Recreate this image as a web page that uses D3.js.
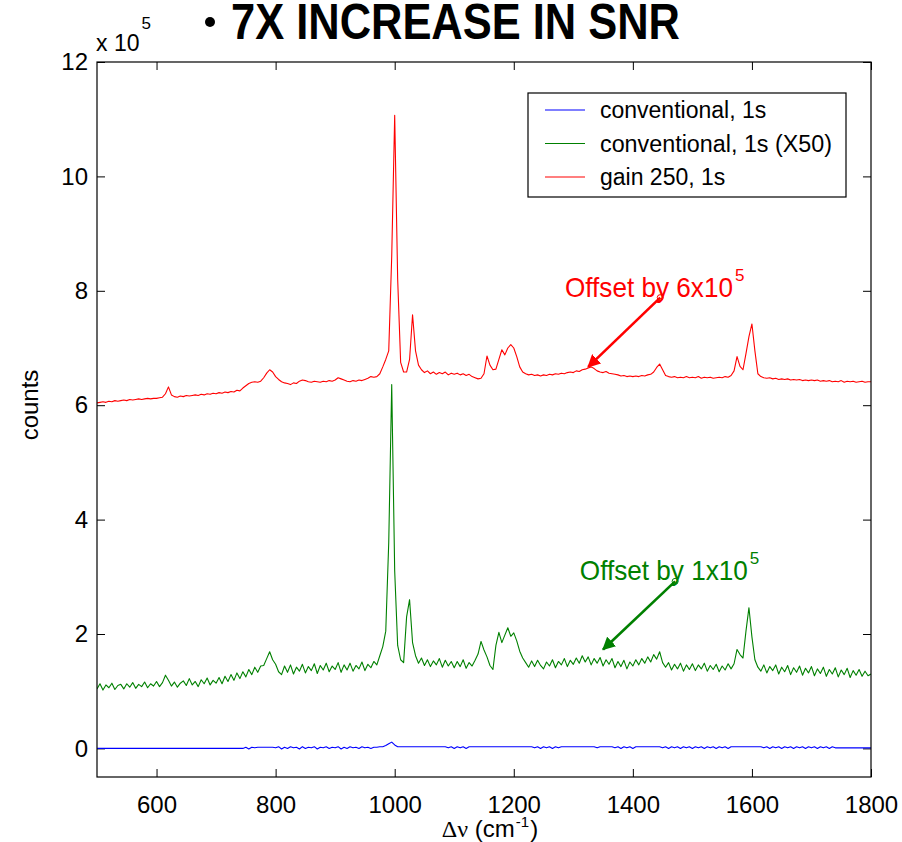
<!DOCTYPE html>
<html>
<head>
<meta charset="utf-8">
<style>
  body { margin: 0; background: #fff; }
  svg text { font-family: 'Liberation Sans', Arial, Helvetica, sans-serif; }
</style>
</head>
<body>
<div id="chart"></div>
<script src="https://cdn.jsdelivr.net/npm/d3@7"></script>
<script>
// sampling grid of the spectra (cm-1), 5 cm-1 step
const waveStart = 500, waveStep = 5;

// conventional, 1s  (units of 1e5 counts)
const conventional = [
  0,0,0,0,0,0,0,0,0,0,0,0,0,0,0,0,0,0,0,0,
  0,0,0,0,0,0,0,0,0,0,0,0,0,0,0,0,0,0,0,0,
  0,0,0,0,0,0,0,0,0,0,0.02,-0.01,0.02,0.01,0.02,0.02,0.02,0.02,0.02,0.02,
  0.01,0.03,-0.01,0.02,0.00,0.03,0.01,0.02,-0.01,0.03,0.00,0.02,0.01,0.03,-0.01,0.02,0.01,0.03,0.00,0.02,
  0.01,0.03,-0.01,0.02,0.00,0.03,0.01,0.02,0.00,0.03,0.01,0.02,0.00,0.02,0.02,0.03,0.03,0.05,0.08,0.11,
  0.06,0.03,0.03,0.03,0.03,0.03,0.03,0.03,0.03,0.03,0.03,0.03,0.03,0.03,0.03,0.03,0.03,0.03,0.01,0.03,
  0.00,0.03,0.01,0.03,0.00,0.03,0.03,0.03,0.03,0.03,0.03,0.03,0.03,0.03,0.03,0.03,0.03,0.03,0.03,0.03,
  0.03,0.03,0.03,0.03,0.03,0.03,0.03,0.01,0.03,0.00,0.03,0.01,0.03,0.00,0.03,0.01,0.03,0.03,0.03,0.03,
  0.03,0.03,0.03,0.03,0.03,0.03,0.03,0.03,0.01,0.03,0.03,0.03,0.03,0.03,0.01,0.03,0.00,0.03,0.01,0.03,
  0.00,0.03,0.03,0.03,0.03,0.03,0.03,0.03,0.03,0.03,0.01,0.03,0.00,0.03,0.01,0.03,0.00,0.03,0.01,0.03,
  0.00,0.03,0.01,0.03,0.00,0.03,0.01,0.03,0.00,0.03,0.01,0.03,0.00,0.03,0.03,0.03,0.03,0.03,0.03,0.03,
  0.03,0.03,0.03,0.03,0.01,0.03,0.00,0.03,0.01,0.03,0.00,0.03,0.01,0.03,0.00,0.03,0.01,0.03,0.00,0.03,
  0.01,0.03,0.00,0.03,0.01,0.03,0.00,0.03,0.01,0.01,0.01,0.01,0.01,0.01,0.01,0.01,0.01,0.01,0.01,0.01,
  0.01
];

// conventional, 1s (X50), offset by 1e5
const conventionalX50 = [
  1.04,1.13,1.02,1.11,1.06,1.14,1.03,1.10,1.12,1.04,1.13,1.07,1.15,1.05,1.12,1.08,1.16,1.06,1.13,1.09,
  1.17,1.08,1.15,1.28,1.19,1.09,1.16,1.07,1.14,1.18,1.10,1.22,1.11,1.17,1.08,1.20,1.13,1.23,1.11,1.19,
  1.14,1.24,1.13,1.26,1.17,1.29,1.19,1.32,1.22,1.34,1.25,1.38,1.29,1.42,1.33,1.44,1.45,1.57,1.69,1.55,
  1.47,1.34,1.29,1.44,1.33,1.46,1.30,1.42,1.35,1.47,1.32,1.43,1.36,1.48,1.31,1.45,1.37,1.49,1.34,1.44,
  1.38,1.50,1.33,1.46,1.37,1.49,1.35,1.45,1.39,1.51,1.36,1.47,1.41,1.52,1.46,1.62,1.78,2.05,3.60,6.36,
  3.10,1.80,1.55,1.50,2.30,2.60,1.85,1.62,1.49,1.58,1.45,1.55,1.43,1.53,1.46,1.57,1.42,1.54,1.44,1.52,
  1.41,1.52,1.43,1.55,1.40,1.50,1.44,1.54,1.65,1.87,1.72,1.60,1.45,1.38,1.80,2.03,1.85,1.98,2.11,1.96,
  2.02,1.88,1.70,1.58,1.50,1.42,1.53,1.43,1.54,1.45,1.39,1.51,1.44,1.55,1.41,1.52,1.46,1.57,1.43,1.54,
  1.47,1.58,1.49,1.62,1.51,1.60,1.46,1.57,1.49,1.59,1.44,1.55,1.47,1.57,1.41,1.52,1.43,1.54,1.39,1.51,
  1.44,1.55,1.46,1.57,1.49,1.60,1.51,1.64,1.56,1.69,1.50,1.42,1.50,1.37,1.47,1.39,1.49,1.35,1.46,1.38,
  1.48,1.36,1.46,1.39,1.49,1.35,1.45,1.38,1.47,1.34,1.44,1.37,1.48,1.39,1.48,1.73,1.64,1.58,2.05,2.46,
  1.95,1.55,1.42,1.35,1.46,1.32,1.43,1.36,1.46,1.30,1.42,1.34,1.45,1.29,1.41,1.33,1.44,1.28,1.40,1.32,
  1.43,1.27,1.39,1.31,1.42,1.26,1.38,1.30,1.41,1.25,1.37,1.29,1.40,1.24,1.36,1.28,1.38,1.26,1.35,1.27,
  1.30
];

// gain 250, 1s, offset by 6e5
const gain250 = [
  6.04,6.05,6.06,6.05,6.07,6.06,6.08,6.07,6.08,6.09,6.08,6.10,6.09,6.10,6.11,6.10,6.11,6.12,6.11,6.12,
  6.12,6.13,6.14,6.20,6.32,6.18,6.15,6.14,6.16,6.15,6.17,6.16,6.17,6.18,6.17,6.19,6.18,6.20,6.19,6.21,
  6.20,6.22,6.21,6.23,6.22,6.24,6.23,6.26,6.25,6.30,6.34,6.38,6.40,6.41,6.40,6.42,6.48,6.56,6.62,6.58,
  6.50,6.45,6.41,6.39,6.38,6.36,6.39,6.38,6.42,6.44,6.43,6.41,6.40,6.42,6.41,6.40,6.42,6.41,6.43,6.42,
  6.44,6.48,6.46,6.44,6.42,6.41,6.43,6.42,6.44,6.43,6.45,6.47,6.50,6.49,6.50,6.55,6.67,6.80,6.95,8.60,
  11.07,8.20,6.75,6.58,6.58,6.80,7.58,6.95,6.70,6.62,6.57,6.60,6.55,6.58,6.54,6.57,6.55,6.58,6.53,6.56,
  6.54,6.56,6.53,6.55,6.52,6.54,6.50,6.48,6.46,6.47,6.55,6.86,6.70,6.62,6.63,6.80,6.97,6.88,7.00,7.06,
  7.00,6.85,6.67,6.58,6.55,6.53,6.54,6.52,6.53,6.51,6.53,6.52,6.54,6.53,6.55,6.54,6.56,6.55,6.57,6.58,
  6.57,6.60,6.59,6.62,6.63,6.65,6.67,6.64,6.60,6.58,6.57,6.59,6.56,6.55,6.54,6.53,6.51,6.52,6.50,6.51,
  6.50,6.51,6.50,6.52,6.51,6.53,6.54,6.58,6.66,6.72,6.62,6.52,6.50,6.49,6.50,6.48,6.49,6.48,6.50,6.48,
  6.49,6.48,6.50,6.47,6.49,6.48,6.49,6.47,6.48,6.49,6.48,6.50,6.49,6.52,6.60,6.85,6.68,6.62,6.90,7.20,
  7.42,6.95,6.55,6.50,6.48,6.47,6.48,6.46,6.47,6.45,6.46,6.45,6.46,6.44,6.45,6.44,6.45,6.43,6.44,6.43,
  6.44,6.43,6.44,6.42,6.43,6.42,6.43,6.41,6.42,6.41,6.43,6.40,6.42,6.41,6.42,6.40,6.41,6.42,6.40,6.41,
  6.41
];

const seriesNames = ["conventional, 1s", "conventional, 1s (X50)", "gain 250, 1s"];
const seriesColors = ["#0000ff", "#008000", "#ff0000"];
const xTicks = [600, 800, 1000, 1200, 1400, 1600, 1800];
const yTicks = [0, 2, 4, 6, 8, 10, 12];

const W = 902, H = 842;
const margin = {top: 62, right: 31, bottom: 65, left: 97};
const width = W - margin.left - margin.right,
      height = H - margin.top - margin.bottom;

const svg = d3.select("#chart").append("svg")
    .attr("width", W).attr("height", H);

const g = svg.append("g")
    .attr("transform", `translate(${margin.left},${margin.top})`);

const x = d3.scaleLinear().domain([500, 1800]).range([0, width]);
const y = d3.scaleLinear().domain([-0.5, 12]).range([height, 0]);

// axes with inward ticks
const axisFont = "24px";
g.append("g")
    .attr("transform", `translate(0,${height})`)
    .call(d3.axisBottom(x).tickValues(xTicks).tickFormat(d3.format("d")).tickSize(-8).tickPadding(19))
    .call(a => a.select(".domain").remove())
    .call(a => a.selectAll("text").style("font-size", axisFont).attr("fill", "#000"));
g.append("g")
    .call(d3.axisTop(x).tickValues(xTicks).tickSize(-8).tickFormat(""))
    .call(a => a.select(".domain").remove());
g.append("g")
    .call(d3.axisLeft(y).tickValues(yTicks).tickFormat(d3.format("d")).tickSize(-8).tickPadding(9))
    .call(a => a.select(".domain").remove())
    .call(a => a.selectAll("text").style("font-size", axisFont).attr("fill", "#000"));
g.append("g")
    .attr("transform", `translate(${width},0)`)
    .call(d3.axisRight(y).tickValues(yTicks).tickSize(-8).tickFormat(""))
    .call(a => a.select(".domain").remove());

g.selectAll(".tick line").attr("stroke", "#000");

// spectra
g.append("clipPath").attr("id", "clip")
  .append("rect").attr("width", width).attr("height", height);

const line = d3.line()
    .x((d, i) => x(waveStart + i * waveStep))
    .y(d => y(d));

[conventional, conventionalX50, gain250].forEach((s, k) => {
  g.append("path")
      .datum(s)
      .attr("clip-path", "url(#clip)")
      .attr("fill", "none")
      .attr("stroke", seriesColors[k])
      .attr("stroke-width", 1.1)
      .attr("stroke-linejoin", "round")
      .attr("d", line);
});

// frame
g.append("rect")
    .attr("width", width).attr("height", height)
    .attr("fill", "none").attr("stroke", "#000").attr("stroke-width", 1.2);

// exponent label
const expo = svg.append("text").attr("x", 96).attr("y", 51).style("font-size", "23px");
expo.append("tspan").text("x 10");
expo.append("tspan").attr("dx", 2).attr("dy", -22).style("font-size", "17px").text("5");

// title
svg.append("circle").attr("cx", 210).attr("cy", 22).attr("r", 5).attr("fill", "#000");
svg.append("text")
    .attr("x", 231).attr("y", 39)
    .attr("textLength", 449).attr("lengthAdjust", "spacingAndGlyphs")
    .style("font-size", "50px")
    .style("font-weight", "bold")
    .text("7X INCREASE IN SNR");

// axis titles
svg.append("text")
    .attr("transform", "translate(38,405) rotate(-90)")
    .attr("text-anchor", "middle")
    .style("font-size", "24px")
    .text("counts");

const xl = svg.append("text")
    .attr("x", 490).attr("y", 837)
    .attr("text-anchor", "middle")
    .style("font-size", "24px");
xl.append("tspan").style("font-family", "'Liberation Serif', serif").text("Δν");
xl.append("tspan").text(" (cm");
xl.append("tspan").attr("dx", 1).attr("dy", -10).style("font-size", "15px").text("-1");
xl.append("tspan").attr("dx", 1).attr("dy", 10).text(")");

// legend
const leg = svg.append("g").attr("transform", "translate(528,93)");
leg.append("rect").attr("width", 318).attr("height", 104)
    .attr("fill", "#fff").attr("stroke", "#000").attr("stroke-width", 1.2);
seriesNames.forEach((n, i) => {
  const yy = 17 + i * 33.5;
  leg.append("line").attr("x1", 17).attr("x2", 57).attr("y1", yy).attr("y2", yy)
      .attr("stroke", seriesColors[i]).attr("stroke-width", 1.1);
  leg.append("text").attr("x", 72).attr("y", yy + 8)
      .attr("textLength", i === 1 ? 232 : null)
      .attr("lengthAdjust", "spacingAndGlyphs")
      .style("font-size", "23px").text(n);
});

// offset annotations
svg.append("defs").selectAll("marker")
  .data(["#ff0000", "#008000"]).join("marker")
    .attr("id", (d, i) => "arrow" + i)
    .attr("viewBox", "0 0 10 10").attr("refX", 9).attr("refY", 5)
    .attr("markerWidth", 5).attr("markerHeight", 5)
    .attr("markerUnits", "strokeWidth")
    .attr("orient", "auto")
  .append("path").attr("d", "M0,0L10,5L0,10z").attr("fill", d => d);

const notes = [
  {label: "Offset by 6x10", sup: "5", color: "#ff0000", tx: 1286, ty: 7.9, x1: 1446, y1: 7.88, x2: 1325, y2: 6.67},
  {label: "Offset by 1x10", sup: "5", color: "#008000", tx: 1311, ty: 2.95, x1: 1471, y1: 2.92, x2: 1350, y2: 1.73}
];
notes.forEach((n, i) => {
  const t = g.append("text")
      .attr("x", x(n.tx)).attr("y", y(n.ty))
      .attr("fill", n.color)
      .style("font-size", "28px");
  t.append("tspan").attr("textLength", 168).attr("lengthAdjust", "spacingAndGlyphs").text(n.label);
  t.append("tspan").attr("dx", 2).attr("dy", -16).style("font-size", "17px").text(n.sup);
  g.append("line")
      .attr("x1", x(n.x1)).attr("y1", y(n.y1))
      .attr("x2", x(n.x2)).attr("y2", y(n.y2))
      .attr("stroke", n.color).attr("stroke-width", 2.6)
      .attr("marker-end", `url(#arrow${i})`);
  g.append("circle")
      .attr("cx", x(n.x1)).attr("cy", y(n.y1)).attr("r", 3)
      .attr("fill", "none").attr("stroke", n.color).attr("stroke-width", 1);
});
</script>
</body>
</html>
